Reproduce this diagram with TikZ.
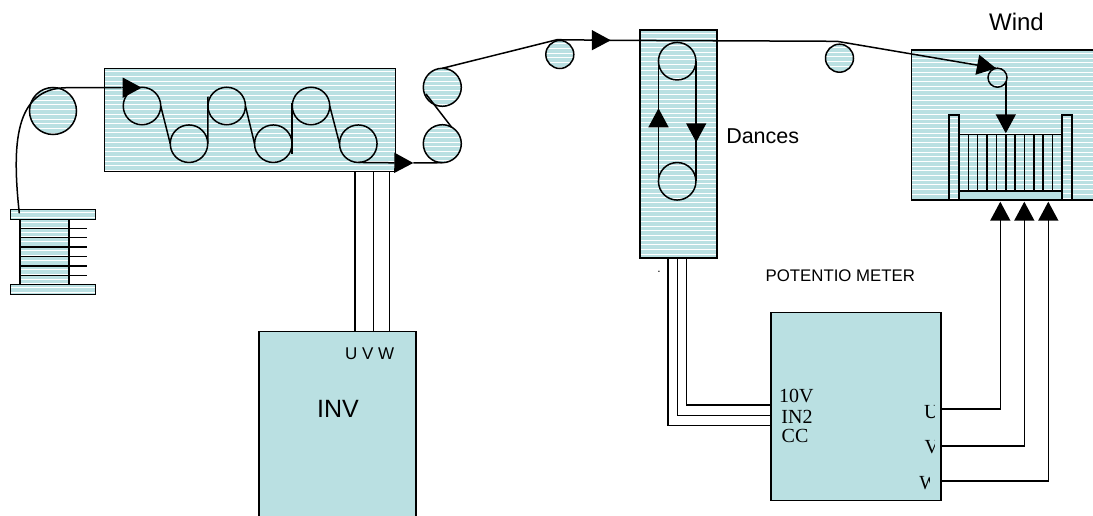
\documentclass[tikz,border=0pt]{standalone}
\usepackage{fontspec}
\setmainfont{Liberation Sans}
\newfontfamily\serifface{Liberation Serif}
\usepackage{xcolor}
\usetikzlibrary{arrows.meta,positioning}
\definecolor{machineFill}{HTML}{BAE0E2}
\tikzset{
  plainbox/.style={draw=black, fill=machineFill, line width=1.5pt, rectangle, inner sep=0, outer sep=0},
  stripebox/.style={plainbox, path picture={
      \foreach \i in {1,...,50}
        \draw[white, line width=0.6pt] ([xshift=-300pt,yshift=-\i*4.7pt+1.5pt]path picture bounding box.north) -- ++(600,0);}},
  roller/.style={stripebox, circle, minimum size=#1},
  wire/.style={line width=1.5pt},
  feed/.style={wire, -{Triangle[length=19pt,width=20pt]}},
  label/.style={inner sep=0, outer sep=0, font=\fontsize{#1}{#1}\selectfont},
  seriflabel/.style={inner sep=0, outer sep=0, font=\fontsize{20}{20}\serifface}
}
\begin{document}
\begin{tikzpicture}[x=1pt, y=-1pt]
      \useasboundingbox (0,0) rectangle (1093,516);
      \clip (0,0) rectangle (1093,516);
      % Boxes
      \node[stripebox, minimum width=291, minimum height=103] (drive) at (250,120) {};
      \node[stripebox, minimum width=77, minimum height=228] (dancer) at (678.5,144) {};
      \node[stripebox, minimum width=200, minimum height=150] (winder) at (1011.5,125) {};
      \node[plainbox, minimum width=157, minimum height=200] (inv) at (337.5,431.7) {};
      \node[plainbox, minimum width=170, minimum height=188] (pot) at (856,406.7) {};
      % Spool
      \node[stripebox, minimum width=49, minimum height=65] (core) at (44.3,251.8) {};
      \node[stripebox, minimum width=85, minimum height=10] (flangeT) at (53,214.3) {};
      \node[stripebox, minimum width=85, minimum height=10] (flangeB) at (53,289.3) {};
      \foreach \y in {228.3,237.7,247,256.7,266,275.7}
        \draw[wire] (20,\y) -- (86.7,\y);
      % Rollers
      \node[roller=47] (feedroll) at (53,111) {};
      \node[roller=37.5] (rollA) at (142,106) {};
      \node[roller=37.5] (rollB) at (189,143.7) {};
      \node[roller=37.5] (rollC) at (226.7,106) {};
      \node[roller=37.5] (rollD) at (273.3,143.7) {};
      \node[roller=37.5] (rollE) at (311,106) {};
      \node[roller=37.5] (rollF) at (358.3,143.7) {};
      \node[roller=38] (pullU) at (442.3,87.3) {};
      \node[roller=38] (pullL) at (442.3,143.7) {};
      \node[roller=28] (idleA) at (559.8,54.5) {};
      \node[roller=37.5] (danceU) at (677.2,61.2) {};
      \node[roller=37.5] (danceL) at (677.2,181.3) {};
      \node[roller=28] (idleB) at (839.5,58.2) {};
      \node[roller=19] (guide) at (997.5,77.7) {};
      % Take-up drum
      \node[plainbox, minimum width=112, minimum height=9] (drumbase) at (1010.5,195.3) {};
      \foreach \x in {968.3,977.6,987,996.4,1005.8,1015,1024.4,1033.8,1043.2,1052.7}
        \draw[wire] (\x,134.3) -- (\x,190.7);
      \draw[wire] (959.4,134.3) -- (1062,134.3);
      \node[stripebox, minimum width=10, minimum height=85] (wallL) at (954.2,157.7) {};
      \node[stripebox, minimum width=10, minimum height=85] (wallR) at (1067,157.7) {};
      % Yarn path
      \coordinate (spoolout) at (19.3,213.3);
      \coordinate (topA) at (67,87.7);
      \coordinate (tailA) at (121.7,87.7);
      \coordinate (tipA) at (141.7,87.7);
      \draw[wire] (spoolout) .. controls (12,145) and (14,88) .. (topA) -- (tailA);
      \draw[feed] (tailA) -- (tipA);
      \draw[wire] (rollA.east) -- (rollB.west);
      \draw[wire] (rollB.east) -- (208,96.7);
      \draw[wire] (rollC.east) -- (rollD.west);
      \draw[wire] (292,153.7) -- (292,103);
      \draw[wire] (rollE.east) -- (rollF.west);
      \draw[feed] (rollF.south) -- (413.3,163) coordinate (tipB);
      \draw[wire] (tipB) -- (pullL.south);
      \draw[wire] (451.7,127.3) -- (426,94);
      \coordinate (tipC) at (610.8,40.3);
      \draw[wire] (pullU.north) -- (557,39.7) -- (tipC);
      \draw[feed] (591,40.2) -- (tipC);
      \coordinate (crest) at (837,41.3);
      \coordinate (tipD) at (996,68.3);
      \draw[wire] (tipC) -- (crest) -- (tipD);
      \draw[feed] (977.5,64.8) -- (tipD);
      % Dancer loop
      \draw[wire] (danceU.west) -- (danceL.west);
      \draw[wire] (danceU.east) -- (danceL.east);
      \draw[feed] (658.5,127.3) -- (658.5,108.3);
      \draw[feed] (696.2,123.3) -- (696.2,142.3);
      % Guide to drum
      \draw[feed] (1005.8,81.7) -- (1005.8,133.3);
      % Inverter cables
      \foreach \x in {355,373.7,389.3}
        \draw[wire] (\x,172) -- (\x,331.7);
      % Potentiometer cables
      \draw[wire] (668,257.7) |- (771,425.7);
      \draw[wire] (677.3,257.7) |- (771,415.7);
      \draw[wire] (686.3,257.7) |- (771,405);
      \draw[feed] (941,409) -| (1000.3,201.7);
      \draw[feed] (941,446) -| (1024.3,201.7);
      \draw[feed] (941,481) -| (1048.3,201.7);
      % Labels
      \node[label=24] (windtext) at (1016.5,22) {Wind};
      \node[label=21.5] (dancetext) at (762.7,136) {Dances};
      \node[label=16.8] (pottext) at (840.3,275.5) {POTENTIO METER};
      \node[label=17] (uvwtext) at (369.7,353.3) {U V W};
      \node[label=25] (invtext) at (338,408.5) {INV};
      \node[label=12] (dottext) at (659,272) {.};
      \node[seriflabel] (tenv) at (796.3,396) {10V};
      \node[seriflabel] (intwo) at (797,417.3) {IN2};
      \node[seriflabel] (cctext) at (795,436) {CC};
      % Terminal letters, cut off on the right
      \begin{scope}
        \clip (900,400) rectangle (934.3,460);
        \node[seriflabel, anchor=west] (termU) at (924,412) {U};
        \node[seriflabel, anchor=west] (termV) at (924.7,447) {V};
      \end{scope}
      \begin{scope}
        \clip (900,470) rectangle (929,495);
        \node[seriflabel, anchor=west] (termW) at (919.3,483.3) {W};
      \end{scope}
    \end{tikzpicture}
\end{document}
